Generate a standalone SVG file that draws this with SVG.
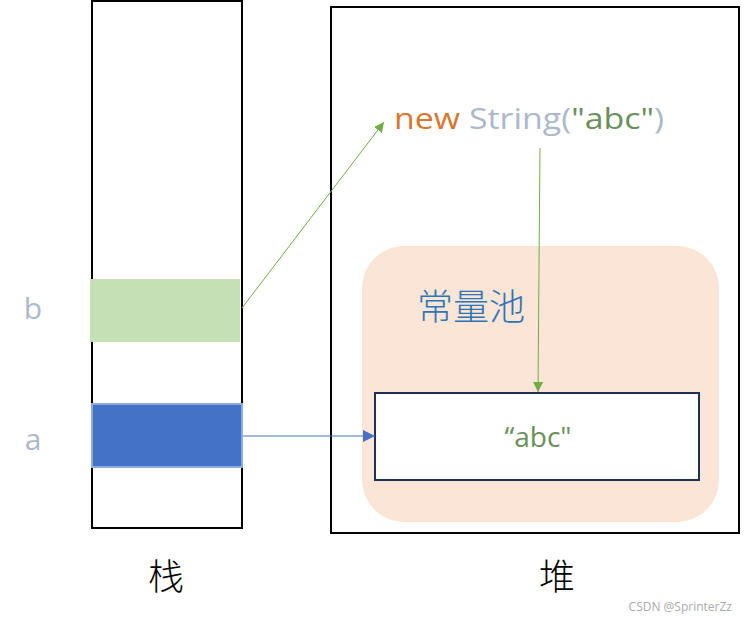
<svg xmlns="http://www.w3.org/2000/svg" width="744" height="621" viewBox="0 0 744 621">
<style>
.t{font-family:"Open Sans","Noto Sans CJK SC",sans-serif}
.cjk{font-family:"Noto Sans CJK SC",sans-serif;font-weight:300}
.frame{fill:#fff;stroke:#000;stroke-width:2}
</style>
<defs>
<marker id="ag" viewBox="0 0 10 10" refX="10" refY="5" markerWidth="10" markerHeight="10" markerUnits="userSpaceOnUse" orient="auto"><path d="M0,0L10,5L0,10z" fill="#70ad47"/></marker>
<marker id="ab" viewBox="0 0 10 10" refX="10" refY="5" markerWidth="12" markerHeight="12" markerUnits="userSpaceOnUse" orient="auto"><path d="M0,0L10,5L0,10z" fill="#4472c4"/></marker>
</defs>
<rect width="744" height="621" fill="#fff"/>
<g id="stack">
<rect class="frame" x="92" y="1" width="150" height="527"/>
<text class="cjk" x="166" y="590" font-size="36" text-anchor="middle">栈</text>
</g>
<g id="heap">
<rect class="frame" x="331" y="7" width="408" height="526"/>
<text class="cjk" x="557" y="590" font-size="36" text-anchor="middle">堆</text>
</g>
<g id="pool">
<rect x="362" y="246" width="357" height="276" rx="42" fill="#fbe5d6"/>
<text class="cjk" x="417" y="320" font-size="36" fill="#2e75b6">常量池</text>
</g>
<g id="b">
<rect x="90" y="279" width="150" height="63" fill="#c5e0b4"/>
<text class="t" x="33" y="319" font-size="30" fill="#adb9ca" text-anchor="middle">b</text>
</g>
<g id="a">
<rect x="92" y="404" width="150" height="63" fill="#4472c4" stroke="#8faadc" stroke-width="2"/>
<text class="t" x="33" y="450" font-size="30" fill="#adb9ca" text-anchor="middle">a</text>
</g>
<g id="newString">
<text class="t" x="394" y="129" font-size="30" textLength="270" lengthAdjust="spacingAndGlyphs"><tspan fill="#d9772f">new</tspan><tspan fill="#adb9ca"> String(</tspan><tspan fill="#6a8f5a">"abc"</tspan><tspan fill="#adb9ca">)</tspan></text>
</g>
<g id="literal">
<rect x="375" y="393" width="324" height="87" fill="#fff" stroke="#1f3056" stroke-width="2"/>
<text class="t" x="538" y="447" font-size="28" fill="#6a8f5a" text-anchor="middle">“abc"</text>
</g>
<g id="connectors" fill="none">
<line x1="242" y1="308" x2="384" y2="122" stroke="#70ad47" stroke-width="1" marker-end="url(#ag)"/>
<line x1="540" y1="148" x2="538" y2="392" stroke="#70ad47" stroke-width="1" marker-end="url(#ag)"/>
<line x1="243" y1="436" x2="375" y2="436" stroke="#4472c4" stroke-width="1.2" marker-end="url(#ab)"/>
</g>
<text class="t" x="732" y="611" font-size="12" fill="#aaa" text-anchor="end">CSDN @SprinterZz</text>
</svg>
